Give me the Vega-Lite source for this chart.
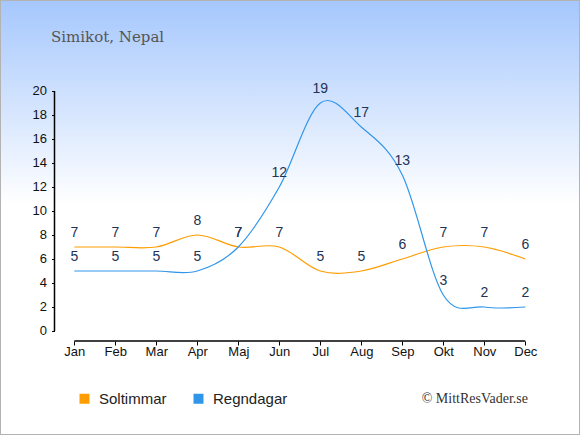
{
  "$schema": "https://vega.github.io/schema/vega-lite/v6.json",
  "width": 580,
  "height": 435,
  "padding": 0,
  "autosize": {"type": "none"},
  "title": {
    "text": "Simikot, Nepal",
    "anchor": "start",
    "frame": "group",
    "orient": "top",
    "offset": -57,
    "dx": 51,
    "baseline": "alphabetic",
    "font": "DejaVu Serif",
    "fontSize": 15,
    "fontWeight": "normal",
    "color": "#555555"
  },
  "config": {
    "view": {
      "fill": {
        "gradient": "linear",
        "x1": 0, "y1": 0, "x2": 0, "y2": 1,
        "stops": [
          {"offset": 0, "color": "#a5c7fd"},
          {"offset": 0.47, "color": "#ffffff"},
          {"offset": 1, "color": "#ffffff"}
        ]
      },
      "stroke": "#b3b3b3",
      "strokeWidth": 2
    },
    "axis": {
      "labelFont": "Liberation Sans",
      "labelFontSize": 13,
      "labelColor": "#111111",
      "tickColor": "#000000",
      "grid": false,
      "domain": false,
      "title": null
    }
  },
  "data": {
    "values": [
      {"m": 1, "month": "Jan", "series": "Soltimmar", "value": 7},
      {"m": 2, "month": "Feb", "series": "Soltimmar", "value": 7},
      {"m": 3, "month": "Mar", "series": "Soltimmar", "value": 7},
      {"m": 4, "month": "Apr", "series": "Soltimmar", "value": 8},
      {"m": 5, "month": "Maj", "series": "Soltimmar", "value": 7},
      {"m": 6, "month": "Jun", "series": "Soltimmar", "value": 7},
      {"m": 7, "month": "Jul", "series": "Soltimmar", "value": 5},
      {"m": 8, "month": "Aug", "series": "Soltimmar", "value": 5},
      {"m": 9, "month": "Sep", "series": "Soltimmar", "value": 6},
      {"m": 10, "month": "Okt", "series": "Soltimmar", "value": 7},
      {"m": 11, "month": "Nov", "series": "Soltimmar", "value": 7},
      {"m": 12, "month": "Dec", "series": "Soltimmar", "value": 6},
      {"m": 1, "month": "Jan", "series": "Regndagar", "value": 5},
      {"m": 2, "month": "Feb", "series": "Regndagar", "value": 5},
      {"m": 3, "month": "Mar", "series": "Regndagar", "value": 5},
      {"m": 4, "month": "Apr", "series": "Regndagar", "value": 5},
      {"m": 5, "month": "Maj", "series": "Regndagar", "value": 7},
      {"m": 6, "month": "Jun", "series": "Regndagar", "value": 12},
      {"m": 7, "month": "Jul", "series": "Regndagar", "value": 19},
      {"m": 8, "month": "Aug", "series": "Regndagar", "value": 17},
      {"m": 9, "month": "Sep", "series": "Regndagar", "value": 13},
      {"m": 10, "month": "Okt", "series": "Regndagar", "value": 3},
      {"m": 11, "month": "Nov", "series": "Regndagar", "value": 2},
      {"m": 12, "month": "Dec", "series": "Regndagar", "value": 2}
    ]
  },
  "layer": [
    {
      "mark": {"type": "line", "interpolate": "cardinal", "strokeWidth": 1.2},
      "encoding": {
        "x": {
          "field": "m",
          "type": "quantitative",
          "scale": {"domain": [-0.8122, 13.334], "nice": false, "zero": false},
          "axis": {
            "orient": "bottom",
            "offset": -94,
            "values": [1, 2, 3, 4, 5, 6, 7, 8, 9, 10, 11, 12],
            "labelExpr": "['Jan','Feb','Mar','Apr','Maj','Jun','Jul','Aug','Sep','Okt','Nov','Dec'][datum.value - 1]",
            "tickSize": 4,
            "labelPadding": 0,
            "labelFlush": false,
            "labelOverlap": false
          }
        },
        "y": {
          "field": "value",
          "type": "quantitative",
          "scale": {"domain": [-8.667, 27.583], "nice": false, "zero": false},
          "axis": {
            "orient": "left",
            "offset": -54.5,
            "values": [0, 2, 4, 6, 8, 10, 12, 14, 16, 18, 20],
            "tickSize": 3,
            "labelPadding": 5,
            "labelFlush": false,
            "labelOverlap": false
          }
        },
        "color": {
          "field": "series",
          "type": "nominal",
          "scale": {"domain": ["Soltimmar", "Regndagar"], "range": ["#ff9c00", "#3196ea"]},
          "legend": {
            "orient": "none",
            "direction": "horizontal",
            "legendX": 77,
            "legendY": 391,
            "title": null,
            "padding": 0,
            "symbolType": "square",
            "symbolSize": 100,
            "symbolStrokeWidth": 0,
            "labelFont": "Liberation Sans",
            "labelFontSize": 15,
            "labelColor": "#222222",
            "labelOffset": 7,
            "columnPadding": 24,
            "encode": {
              "symbols": {"update": {"fill": {"scale": "color", "field": "value"}, "opacity": {"value": 1}}}
            }
          }
        }
      }
    },
    {
      "mark": {"type": "text", "dy": -14, "baseline": "middle", "align": "center", "font": "Liberation Sans", "fontSize": 14, "color": "#223355"},
      "encoding": {
        "x": {"field": "m", "type": "quantitative"},
        "y": {"field": "value", "type": "quantitative"},
        "text": {"field": "value", "type": "quantitative"}
      }
    },
    {
      "data": {"values": [{}]},
      "mark": {"type": "rule", "color": "#000000", "strokeWidth": 1.5},
      "encoding": {
        "x": {"datum": 0.517, "type": "quantitative"},
        "y": {"datum": 0, "type": "quantitative"},
        "y2": {"datum": 20}
      }
    },
    {
      "data": {"values": [{}]},
      "mark": {"type": "rule", "color": "#000000", "strokeWidth": 1.5},
      "encoding": {
        "x": {"datum": 1, "type": "quantitative"},
        "x2": {"datum": 12},
        "y": {"datum": -0.833, "type": "quantitative"}
      }
    },
    {
      "data": {"values": [{"note": "© MittResVader.se"}]},
      "mark": {"type": "text", "align": "right", "baseline": "alphabetic", "font": "Liberation Serif", "fontSize": 14, "color": "#333333"},
      "encoding": {
        "x": {"datum": 12.066, "type": "quantitative"},
        "y": {"datum": -6.0, "type": "quantitative"},
        "text": {"field": "note"}
      }
    }
  ]
}
